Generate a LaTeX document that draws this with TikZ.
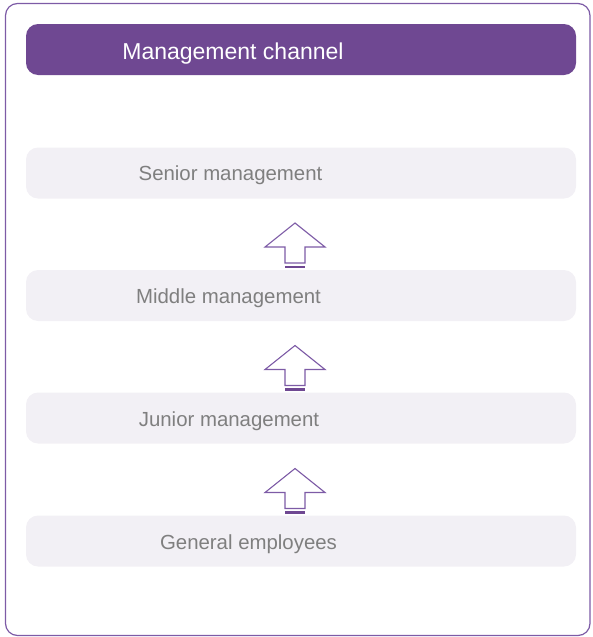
\documentclass[tikz,border=0pt]{standalone}
\usepackage{fontspec}
\setmainfont{Liberation Sans}

\definecolor{chanpurple}{HTML}{6F4892}
\definecolor{framepurple}{HTML}{7D5BA6}
\definecolor{boxgray}{HTML}{F2F0F5}
\definecolor{labelgray}{HTML}{7F7F7F}

\tikzset{
  levelbox/.style={fill=boxgray, rounded corners=12pt, minimum width=550pt, minimum height=51pt, inner sep=0pt, outer sep=0pt},
  levellabel/.style={text=labelgray, font=\fontsize{20.4}{24}\selectfont, inner sep=0pt, anchor=base},
  uparrow/.pic={
    \draw[framepurple, line width=1.1pt, fill=white] (0,-47) -- (30,-23) -- (10,-23) -- (10,-7) -- (-10,-7) -- (-10,-23) -- (-30,-23) -- cycle;
    \draw[chanpurple, line width=2.5pt] (-10,-3) -- (10,-3);
  }
}

\begin{document}
\begin{tikzpicture}[x=1pt, y=-1pt]
\useasboundingbox (0,0) rectangle (592,637);
\draw[framepurple, line width=1.2pt, rounded corners=12pt] (5.5,3.5) rectangle (590,635.5);

\node[levelbox, fill=chanpurple] (header) at (301,49.5) {};
\node[text=white, font=\fontsize{23}{27}\selectfont, inner sep=0pt, anchor=base] (headertext) at (233,59.3) {Management channel};

\node[levelbox] (senior) at (301,173) {};
\node[levellabel] (seniortext) at (230.5,180.7) {Senior management};
\node[levelbox] (middle) at (301,295.5) {};
\node[levellabel] (middletext) at (228.5,303.7) {Middle management};
\node[levelbox] (junior) at (301,418) {};
\node[levellabel] (juniortext) at (229,426.7) {Junior management};
\node[levelbox] (general) at (301,541) {};
\node[levellabel] (generaltext) at (248.5,549) {General employees};

\pic at ([xshift=-6pt]middle.north) {uparrow};
\pic at ([xshift=-6pt]junior.north) {uparrow};
\pic at ([xshift=-6pt]general.north) {uparrow};
\end{tikzpicture}
\end{document}
